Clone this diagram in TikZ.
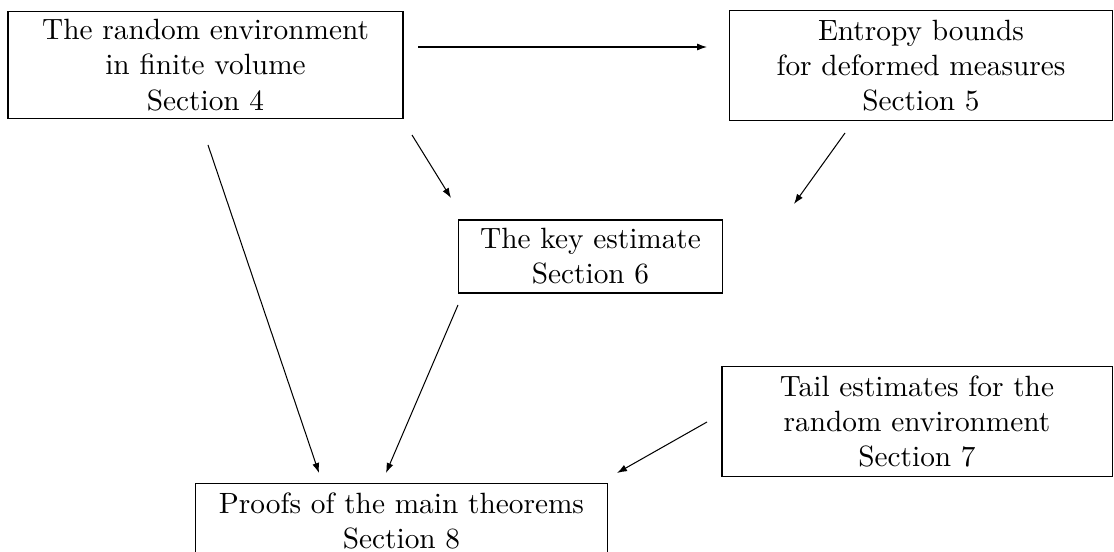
\documentclass[tikz,border=0pt]{standalone}
\usetikzlibrary{arrows.meta}

\begin{document}
\begin{tikzpicture}[x=0.341pt, y=-0.341pt,
        box/.style={draw, line width=0.35pt, align=center, inner sep=0pt},
        arr/.style={line width=0.35pt, -{Latex[length=3.4pt, width=2.4pt]}}]
        \useasboundingbox (0,0) rectangle (1114,552);
        \node[box, minimum width=134.7pt, minimum height=36.5pt] (s4) at (205.5, 65)
            {The random environment\\ in finite volume\\ Section 4};
        \node[box, minimum width=130.3pt, minimum height=37.2pt] (s5) at (921, 65.5)
            {Entropy bounds\\ for deformed measures\\ Section 5};
        \node[box, minimum width=89.7pt, minimum height=24.9pt] (s6) at (590.5, 256.5)
            {The key estimate\\ Section 6};
        \node[box, minimum width=133pt, minimum height=37.2pt] (s7) at (917, 421.5)
            {Tail estimates for the\\ random environment\\ Section 7};
        \node[box, minimum width=140.2pt, minimum height=25.9pt] (s8) at (401.5, 521)
            {Proofs of the main theorems\\ Section 8};
        \coordinate (a1) at (418, 47);
        \coordinate (a2) at (707, 47);
        \coordinate (b1) at (208, 145);
        \coordinate (b2) at (319, 473);
        \coordinate (c1) at (412, 135);
        \coordinate (c2) at (451, 198);
        \coordinate (d1) at (845, 133);
        \coordinate (d2) at (794, 204);
        \coordinate (e1) at (458, 305);
        \coordinate (e2) at (386, 473);
        \coordinate (f1) at (707, 422);
        \coordinate (f2) at (617, 473);
        \draw[arr] (a1) -- (a2);
        \draw[arr] (b1) -- (b2);
        \draw[arr] (c1) -- (c2);
        \draw[arr] (d1) -- (d2);
        \draw[arr] (e1) -- (e2);
        \draw[arr] (f1) -- (f2);
\end{tikzpicture}
\end{document}
